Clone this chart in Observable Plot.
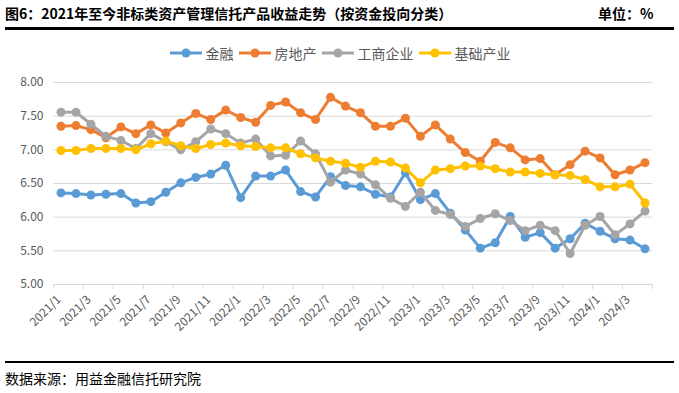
<!DOCTYPE html>
<html><head><meta charset="utf-8">
<script src="https://cdn.jsdelivr.net/npm/d3@7"></script>
<script src="https://cdn.jsdelivr.net/npm/@observablehq/plot@0.6"></script>
<style>
body{margin:0;background:#fff;}
#wrap{position:relative;width:679px;height:393px;overflow:hidden;font-family:"Noto Sans CJK SC","Noto Sans",sans-serif;}
#title{position:absolute;left:5px;top:3px;font-size:14px;font-weight:bold;color:#000;white-space:nowrap;}
#unit{position:absolute;left:598px;top:3px;font-size:14px;font-weight:bold;color:#000;white-space:nowrap;}
#line1{position:absolute;left:5px;width:669px;top:27px;height:3px;background:#000;}
#legend{position:absolute;top:43px;left:0;width:679px;display:flex;justify-content:center;align-items:center;gap:4px;font-size:14px;color:#595959;}
.item{display:flex;align-items:center;gap:3px;white-space:nowrap;}
#chart{position:absolute;top:60px;left:0;}
#line2{position:absolute;left:5px;width:669px;top:361px;height:2px;background:#000;}
#source{position:absolute;left:5px;top:368px;font-size:14px;color:#000;white-space:nowrap;}
</style></head>
<body>
<div id="wrap">
  <div id="title">图6：2021年至今非标类资产管理信托产品收益走势（按资金投向分类）</div>
  <div id="unit">单位：%</div>
  <div id="line1"></div>
  <div id="legend"></div>
  <div id="chart"></div>
  <div id="line2"></div>
  <div id="source">数据来源：用益金融信托研究院</div>
</div>
<script>
const months = ["2021/1","2021/2","2021/3","2021/4","2021/5","2021/6","2021/7","2021/8","2021/9","2021/10","2021/11","2021/12",
"2022/1","2022/2","2022/3","2022/4","2022/5","2022/6","2022/7","2022/8","2022/9","2022/10","2022/11","2022/12",
"2023/1","2023/2","2023/3","2023/4","2023/5","2023/6","2023/7","2023/8","2023/9","2023/10","2023/11","2023/12",
"2024/1","2024/2","2024/3","2024/4"];
const seriesNames = ["金融","房地产","工商企业","基础产业"];
const seriesColors = ["#5b9bd5","#ed7d31","#a5a5a5","#ffc000"];
const jinrong = [6.36,6.35,6.33,6.34,6.35,6.21,6.23,6.37,6.51,6.59,6.64,6.77,6.29,6.61,6.61,6.70,6.38,6.30,6.60,6.47,6.45,6.34,6.30,6.66,6.26,6.35,6.06,5.81,5.54,5.62,6.01,5.70,5.77,5.54,5.68,5.91,5.79,5.68,5.66,5.53];
const fangdichan = [7.35,7.36,7.30,7.18,7.34,7.24,7.37,7.25,7.40,7.54,7.45,7.59,7.48,7.41,7.66,7.71,7.55,7.45,7.78,7.65,7.55,7.35,7.35,7.47,7.20,7.37,7.16,6.96,6.83,7.11,7.03,6.85,6.87,6.63,6.78,6.98,6.88,6.63,6.70,6.81];
const gongshang = [7.56,7.56,7.38,7.20,7.14,7.02,7.24,7.12,7.00,7.12,7.31,7.24,7.10,7.16,6.91,6.92,7.13,6.94,6.52,6.70,6.64,6.48,6.28,6.16,6.37,6.10,6.04,5.86,5.98,6.05,5.95,5.80,5.88,5.80,5.46,5.88,6.01,5.74,5.90,6.09];
const jichu = [6.99,6.99,7.02,7.02,7.02,7.00,7.09,7.13,7.06,7.02,7.08,7.10,7.06,7.05,7.03,7.03,6.94,6.88,6.83,6.80,6.74,6.83,6.82,6.73,6.51,6.70,6.72,6.76,6.76,6.72,6.67,6.67,6.65,6.63,6.62,6.56,6.45,6.45,6.49,6.21];
const yTicks = [5,5.5,6,6.5,7,7.5,8];
const yTickLabels = ["5.00","5.50","6.00","6.50","7.00","7.50","8.00"];

const allSeries = [jinrong, fangdichan, gongshang, jichu];
const idx = months.map((m,i)=>i);
const labelIdx = idx.filter(i=>i%2===0);
const boundaries = idx.filter(i=>i%2===0).map(i=>i-0.5).concat([months.length-0.5]);

// legend
const leg = document.getElementById("legend");
seriesNames.forEach((n,k)=>{
  const it = document.createElement("div"); it.className="item";
  it.innerHTML = `<svg width="34" height="12"><line x1="1" x2="33" y1="6" y2="6" stroke="${seriesColors[k]}" stroke-width="3"/><circle cx="17" cy="6" r="4.5" fill="${seriesColors[k]}"/></svg><span>${n}</span>`;
  leg.appendChild(it);
});

const marks = [
  Plot.ruleY(yTicks, {stroke:"#d9d9d9", strokeWidth:1}),
  Plot.axisY({ticks: yTicks, tickFormat: d=>yTickLabels[yTicks.indexOf(d)], tickSize:0, tickPadding:10, fontSize:12, color:"#595959", label:null}),
  Plot.axisX({ticks: boundaries, tickFormat: ()=>"", tickSize:5, stroke:"#d9d9d9", label:null}),
  Plot.axisX({ticks: labelIdx, tickFormat: i=>months[i], tickSize:0, tickPadding:13, tickRotate:-45, fontSize:12, color:"#595959", label:null, dx:-2})
];
allSeries.forEach((vals,k)=>{
  const d = vals.map((v,i)=>({i, v}));
  marks.push(Plot.line(d, {x:"i", y:"v", stroke:seriesColors[k], strokeWidth:3}));
  marks.push(Plot.dot(d, {x:"i", y:"v", r:4.5, fill:seriesColors[k], stroke:"none"}));
});

const chart = Plot.plot({
  width:679, height:280,
  marginTop:22, marginBottom:56, marginLeft:53, marginRight:27,
  style:{fontFamily:'"Noto Sans CJK SC","Noto Sans",sans-serif', background:"transparent", color:"#595959"},
  x:{domain:[-0.5, months.length-0.5], axis:null},
  y:{domain:[5,8], axis:null},
  marks
});
document.getElementById("chart").appendChild(chart);
</script>
</body></html>
